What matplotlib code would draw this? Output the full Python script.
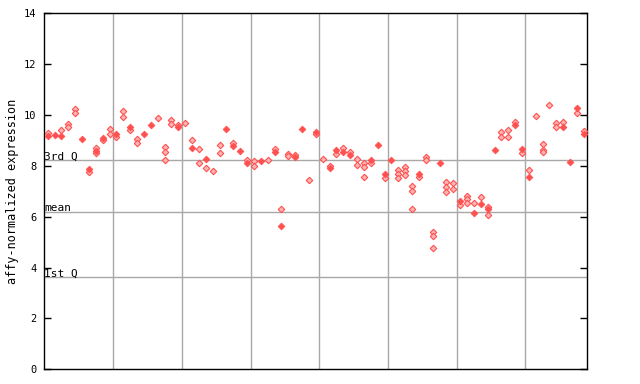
import matplotlib
matplotlib.use("Agg")
import matplotlib.pyplot as plt
import matplotlib.transforms as mtransforms
import numpy as np

# ---- data ----
filled = [9.19, 9.21, 9.19, None, None, 9.06, 7.86, 8.60, 9.11, None,
          9.27, None, 9.52, None, 9.25, 9.61, None, None, None, 9.54,
          None, 8.71, None, 8.27, None, None, 9.46, 8.78, 8.57, 8.12,
          None, 8.19, None, 8.56, 5.62, None, 8.34, 9.44, None, 9.34,
          None, 7.90, 8.63, 8.55, 8.42, None, None, 8.23, 8.82, 7.69,
          8.23, None, None, None, 7.70, None, None, 8.11, None, None,
          6.63, None, 6.16, 6.50, 6.29, 8.62, None, None, 9.62, 8.68,
          7.57, None, None, None, None, 9.54, 8.14, 10.29, 9.27]

replicates = [[9.30], [], [9.40], [9.63, 9.52], [10.22, 10.09], [], [7.75], [8.71, 8.49], [9.00], [9.46, 9.25],
              [9.15], [10.17, 9.93], [9.41], [9.07, 8.90], [], [], [9.88], [8.73, 8.53, 8.22], [9.80, 9.65], [9.61],
              [9.67], [9.00], [8.65, 8.10], [7.90], [7.78], [8.83, 8.52], [], [8.89], [], [8.23],
              [8.19, 8.00], [], [8.22], [8.67], [6.32], [8.47, 8.37], [8.41], [], [7.44], [9.24],
              [8.26], [8.00], [8.47], [8.69], [8.55], [8.27, 8.04], [8.13, 7.95, 7.58], [8.10], [], [7.53],
              [], [7.82, 7.67, 7.53], [7.94, 7.79, 7.66], [7.19, 7.00, 6.29], [7.57], [8.34, 8.22], [5.39, 5.23, 4.76], [], [7.35, 7.16, 6.96], [7.31, 7.08],
              [6.46], [6.81, 6.68, 6.55], [6.53], [6.76], [6.39, 6.07], [], [9.32, 9.15], [9.40, 9.12], [9.71], [8.49],
              [7.83], [9.95], [8.86, 8.62, 8.55], [10.38], [9.69, 9.52], [9.71], [], [10.07], [9.38]]

ref_lines = {"3rd Q": 8.22, "mean": 6.20, "1st Q": 3.62}
y_ticks = [0, 2, 4, 6, 8, 10, 12, 14]
group_bounds = [9.5, 19.5, 29.5, 39.5, 49.5, 59.5, 69.5]
y_label = "affy-normalized expression"

# ---- figure ----
fig = plt.figure(figsize=(6.4, 3.84), dpi=100)
ax = fig.add_axes([44.3 / 640, 14.7 / 384, (587.3 - 44.3) / 640, (369.3 - 13.3) / 384])

n = len(filled)
ax.set_xlim(-0.5, n - 0.5)
ax.set_ylim(0, 14)

red = "#ff5050"
for xb in group_bounds:
    ax.axvline(xb, color="#a8a8a8", lw=1.0, zorder=1)
for name, v in ref_lines.items():
    ax.axhline(v, color="#a8a8a8", lw=1.0, zorder=1)

# replicate (hatched) markers
rx, ry = [], []
for i, vals in enumerate(replicates):
    for v in vals:
        rx.append(i)
        ry.append(v)
ax.plot(rx, ry, linestyle="none", marker="D", markersize=3.3,
        markerfacecolor="#ffb4b4", markeredgecolor=red, markeredgewidth=0.8, zorder=3)

fx = [i for i, v in enumerate(filled) if v is not None]
fy = [v for v in filled if v is not None]
ax.plot(fx, fy, linestyle="none", marker="D", markersize=3.5,
        markerfacecolor=red, markeredgecolor=red, markeredgewidth=0.5, zorder=4)

mono = "DejaVu Sans Mono"
trans = mtransforms.blended_transform_factory(ax.transAxes, ax.transData)
off = mtransforms.offset_copy(trans, fig=fig, x=0, y=1.0, units="dots")
for name, v in ref_lines.items():
    ax.text(0.0, v, name, transform=off, ha="left", va="baseline",
            fontsize=8, family=mono, color="black", zorder=5)

ax.set_yticks(y_ticks)
ax.set_yticklabels([str(t) for t in y_ticks], family=mono, fontsize=7.5)
ax.set_xticks([])
ax.tick_params(axis="y", direction="in", length=5, width=1, pad=5.5,
               right=True, left=True, labelright=False)
for s in ax.spines.values():
    s.set_color("black")
    s.set_linewidth(1.0)

fig.text(12.5 / 640, 1 - 191 / 384, y_label, rotation=90, ha="center", va="center",
         fontsize=8.5, family=mono)

fig.savefig("out.png", dpi=100)
